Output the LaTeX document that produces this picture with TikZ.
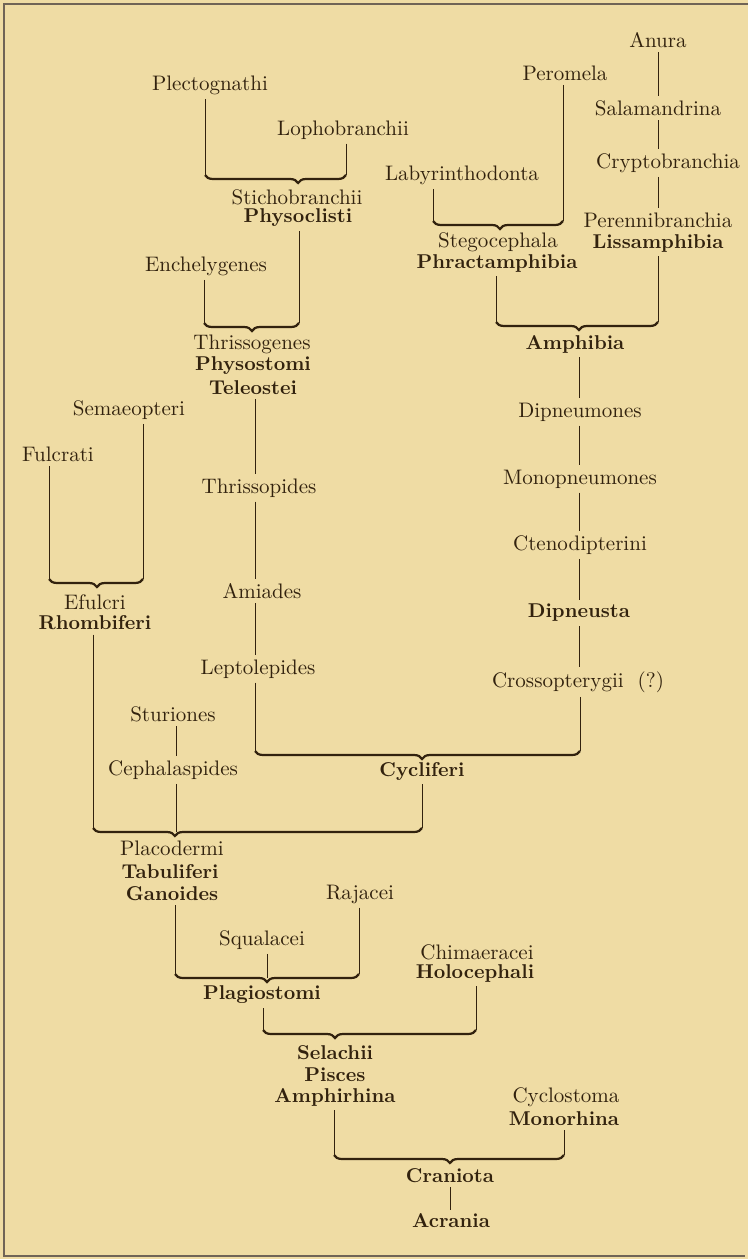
\documentclass[tikz,border=0pt]{standalone}
\usetikzlibrary{decorations.pathreplacing}
\definecolor{paper}{RGB}{239,220,164}
\definecolor{ink}{RGB}{50,34,14}
\tikzset{
  taxon/.style={text=ink, inner sep=2pt, font=\fontsize{10.5}{12}\selectfont},
  grp/.style={text=ink, inner sep=2pt, font=\fontsize{10}{12}\selectfont\bfseries},
  vline/.style={draw=ink, line width=0.5pt},
  clasp/.style={draw=ink, line width=1.1pt, decorate,
    decoration={brace, mirror, amplitude=4pt, aspect=#1}},
  frame/.style={draw=ink!70, line width=0.6pt},
}
\begin{document}
\begin{tikzpicture}[x=0.5pt, y=-0.5pt]
\fill[paper] (0,0) rectangle (748,1259);
\draw[frame] (748,4) -- (4,4) -- (4,1256) -- (745,1256);

\node[taxon] (anura) at (658,40) {Anura};
\node[taxon] (salam) at (658,108) {Salamandrina};
\node[taxon] (crypto) at (668,163) {Cryptobranchia};
\node[taxon] (perenni) at (658,220) {Perennibranchia};
\node[grp] (lissa) at (658,243) {Lissamphibia};
\node[taxon] (peromela) at (565,73) {Peromela};
\node[taxon] (laby) at (462,175) {Labyrinthodonta};
\node[taxon] (stego) at (498,242) {Stegocephala};
\node[grp] (phract) at (497,263) {Phractamphibia};
\node[grp] (amphibia) at (575,344) {Amphibia};
\node[taxon] (dipneum) at (580,412) {Dipneumones};
\node[taxon] (monop) at (580,479) {Monopneumones};
\node[taxon] (cteno) at (580,545) {Ctenodipterini};
\node[grp] (dipneusta) at (579,613) {Dipneusta};
\node[taxon] (crosso) at (578,682) {Crossopterygii\ \ (?)};

\node[taxon] (plecto) at (210,85) {Plectognathi};
\node[taxon] (lopho) at (343,130) {Lophobranchii};
\node[taxon] (sticho) at (297,197) {Stichobranchii};
\node[grp] (physocl) at (298,218) {Physoclisti};
\node[taxon] (enchely) at (206,266) {Enchelygenes};
\node[taxon] (thrisso) at (252,344) {Thrissogenes};
\node[grp] (physost) at (253,366) {Physostomi};
\node[grp] (teleo) at (253,388) {Teleostei};
\node[taxon] (thrissop) at (259,488) {Thrissopides};
\node[taxon] (amiades) at (262,591) {Amiades};
\node[taxon] (lepto) at (258,669) {Leptolepides};
\node[grp] (cycli) at (422,771) {Cycliferi};

\node[taxon] (semaeo) at (129,410) {Semaeopteri};
\node[taxon] (fulcrati) at (58,454) {Fulcrati};
\node[taxon] (efulcri) at (95,602) {Efulcri};
\node[grp] (rhombi) at (95,623) {Rhombiferi};
\node[taxon] (sturi) at (173,714) {Sturiones};
\node[taxon] (cephal) at (173,770) {Cephalaspides};
\node[taxon] (placo) at (172,848) {Placodermi};
\node[grp] (tabuli) at (170,872) {Tabuliferi};
\node[grp] (ganoid) at (172,894) {Ganoides};

\node[taxon] (rajacei) at (360,894) {Rajacei};
\node[taxon] (squal) at (262,940) {Squalacei};
\node[grp] (plagio) at (262,995) {Plagiostomi};
\node[taxon] (chimae) at (477,952) {Chimaeracei};
\node[grp] (holoc) at (475,973) {Holocephali};
\node[grp] (selachii) at (335,1053) {Selachii};
\node[grp] (pisces) at (335,1075) {Pisces};
\node[grp] (amphir) at (335,1097) {Amphirhina};
\node[taxon] (cyclost) at (566,1097) {Cyclostoma};
\node[grp] (monor) at (564,1119) {Monorhina};
\node[grp] (crani) at (450,1176) {Craniota};
\node[grp] (acrania) at (451,1221) {Acrania};

\coordinate (b1l) at (205,175); \coordinate (b1r) at (346,175);
\coordinate (b2l) at (433,221); \coordinate (b2r) at (563,221);
\coordinate (b3l) at (204,323); \coordinate (b3r) at (299,323);
\coordinate (b4l) at (496,322); \coordinate (b4r) at (658,322);
\coordinate (b5l) at (49,579); \coordinate (b5r) at (143,579);
\coordinate (b6l) at (255,751); \coordinate (b6r) at (580,751);
\coordinate (b7l) at (93,828); \coordinate (b7r) at (422,828);
\coordinate (b7m) at (176,832);
\coordinate (b8l) at (175,974); \coordinate (b8r) at (359,974);
\coordinate (b8m) at (267,978);
\coordinate (b9l) at (263,1030); \coordinate (b9r) at (476,1030);
\coordinate (b10l) at (334,1155); \coordinate (b10r) at (564,1155);
\coordinate (colA) at (579,0);

\draw[clasp=0.66] (b1l) -- (b1r);
\draw[clasp=0.515] (b2l) -- (b2r);
\draw[clasp=0.505] (b3l) -- (b3r);
\draw[clasp=0.512] (b4l) -- (b4r);
\draw[clasp=0.51] (b5l) -- (b5r);
\draw[clasp=0.514] (b6l) -- (b6r);
\draw[clasp=0.249] (b7l) -- (b7r);
\draw[clasp=0.5] (b8l) -- (b8r);
\draw[clasp=0.338] (b9l) -- (b9r);
\draw[clasp=0.504] (b10l) -- (b10r);

\draw[vline] (anura) -- (salam);
\draw[vline] (salam) -- (salam |- crypto.north);
\draw[vline] (salam |- crypto.south) -- (perenni);
\draw[vline] (lissa) -- (b4r);
\draw[vline] (b2r |- peromela.south) -- (b2r);
\draw[vline] (b2l |- laby.south) -- (b2l);
\draw[vline] (b4l |- phract.south) -- (b4l);
\foreach \a/\b in {amphibia/dipneum, dipneum/monop, monop/cteno, cteno/dipneusta, dipneusta/crosso}
  \draw[vline] (colA |- \a.south) -- (colA |- \b.north);
\draw[vline] (b6r |- crosso.south) -- (b6r);

\draw[vline] (b1l |- plecto.south) -- (b1l);
\draw[vline] (b1r |- lopho.south) -- (b1r);
\draw[vline] (b3l |- enchely.south) -- (b3l);
\draw[vline] (b3r |- physocl.south) -- (b3r);
\foreach \a/\b in {teleo/thrissop, thrissop/amiades, amiades/lepto}
  \draw[vline] (b6l |- \a.south) -- (b6l |- \b.north);
\draw[vline] (b6l |- lepto.south) -- (b6l);
\draw[vline] (b7r |- cycli.south) -- (b7r);

\draw[vline] (b5r |- semaeo.south) -- (b5r);
\draw[vline] (b5l |- fulcrati.south) -- (b5l);
\draw[vline] (b7l |- rhombi.south) -- (b7l);
\draw[vline] (b7m |- sturi.south) -- (b7m |- cephal.north);
\draw[vline] (b7m |- cephal.south) -- (b7m);

\draw[vline] (b8l |- ganoid.south) -- (b8l);
\draw[vline] (b8r |- rajacei.south) -- (b8r);
\draw[vline] (b8m |- squal.south) -- (b8m);
\draw[vline] (b9l |- plagio.south) -- (b9l);
\draw[vline] (b9r |- holoc.south) -- (b9r);
\draw[vline] (b10l |- amphir.south) -- (b10l);
\draw[vline] (b10r |- monor.south) -- (b10r);
\draw[vline] (crani.south) -- (crani.south |- acrania.north);
\end{tikzpicture}
\end{document}
